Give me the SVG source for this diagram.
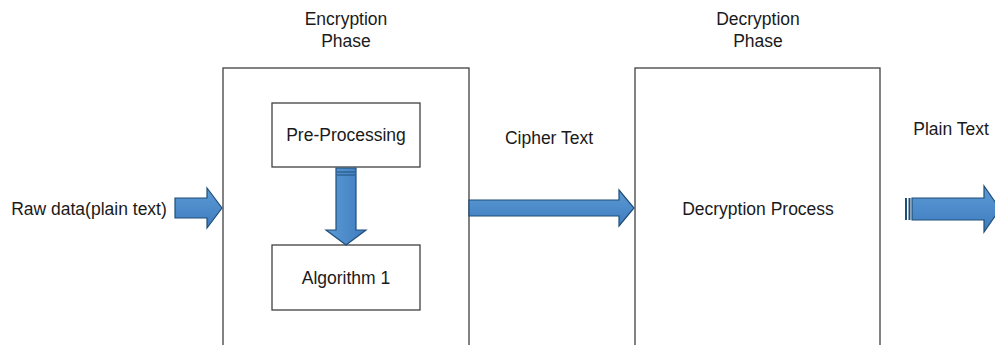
<svg xmlns="http://www.w3.org/2000/svg" width="995" height="345" viewBox="0 0 995 345">
<defs>
<linearGradient id="gh" x1="0" y1="0" x2="0" y2="1"><stop offset="0" stop-color="#5b9bd5"/><stop offset="1" stop-color="#3f7bbf"/></linearGradient>
<linearGradient id="gv" x1="0" y1="0" x2="1" y2="0"><stop offset="0" stop-color="#5b9bd5"/><stop offset="1" stop-color="#3f7bbf"/></linearGradient>
</defs>
<style>
.box{fill:#fff;stroke:#404040;stroke-width:1.3}
.t{font-family:"Liberation Sans",Arial,sans-serif;font-size:17.5px;fill:#1a1a1a;text-anchor:middle}
.ah{fill:url(#gh);stroke:#1f4e79;stroke-width:1.2;stroke-linejoin:miter}
.av{fill:url(#gv);stroke:#1f4e79;stroke-width:1.2;stroke-linejoin:miter}
</style>
<rect width="995" height="345" fill="#fff"/>
<g id="encryption-phase">
<rect class="box" x="223" y="68" width="246" height="290"/>
<text class="t" x="346" y="25">Encryption</text>
<text class="t" x="346" y="47">Phase</text>
</g>
<g id="pre-processing">
<rect class="box" x="272" y="103" width="148" height="64"/>
<text class="t" x="346" y="141">Pre-Processing</text>
</g>
<g id="algorithm-1">
<rect class="box" x="272" y="245" width="148" height="65"/>
<text class="t" x="346" y="284">Algorithm 1</text>
</g>
<g id="decryption-phase">
<rect class="box" x="635" y="68" width="245" height="290"/>
<text class="t" x="758" y="25">Decryption</text>
<text class="t" x="758" y="47">Phase</text>
<text class="t" x="758" y="215">Decryption Process</text>
</g>
<g id="raw-data">
<text class="t" x="89" y="215">Raw data(plain text)</text>
</g>
<g id="cipher-text">
<text class="t" x="549" y="144">Cipher Text</text>
</g>
<g id="plain-text">
<text class="t" x="951" y="135">Plain Text</text>
</g>
<g id="connectors">
<path class="ah" d="M175,198 H207 V188 L222,208 L207,228 V218 H175 Z"/>
<path class="av" d="M336,168 H356 V230 H366 L346,245 L326,230 H336 Z"/>
<line x1="337" y1="172" x2="355" y2="172" stroke="#1f4e79" stroke-width="1"/>
<line x1="337" y1="175" x2="355" y2="175" stroke="#1f4e79" stroke-width="1"/>
<path class="ah" d="M469,200 H619 V190 L634,208 L619,226 V216 H469 Z"/>
<path class="ah" d="M912,198 H984 V186 L1000,209 L984,232 V220 H912 Z"/>
<rect x="905" y="198" width="2" height="22" fill="#1f4e79"/>
<rect x="908.5" y="198" width="2" height="22" fill="#1f4e79"/>
</g>
</svg>
